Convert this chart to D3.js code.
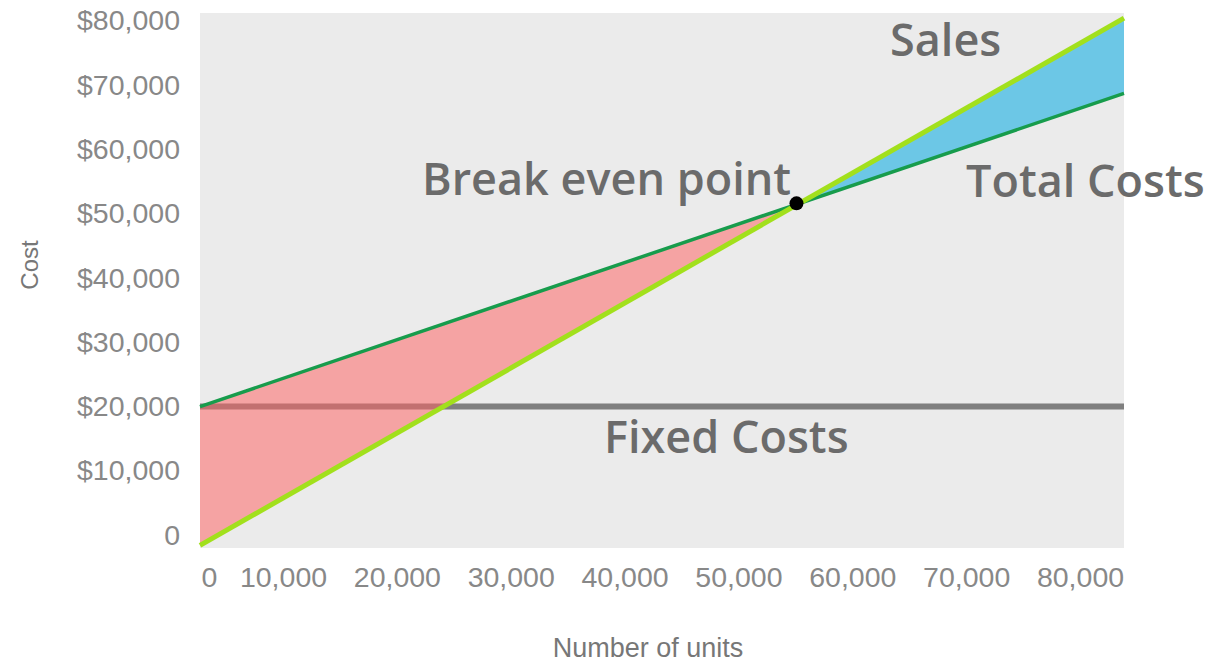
<!DOCTYPE html>
<html>
<head>
<meta charset="utf-8">
<script src="https://cdn.jsdelivr.net/npm/d3@7"></script>
<style>
  html, body { margin: 0; padding: 0; background: #fff; }
  svg { display: block; }
</style>
</head>
<body>
<svg id="chart" width="1222" height="663"></svg>
<script>
// Break-even chart data
const units = [0, 84000];                 // number of units at each end of the plot
const salesValues = [-1600, 80400];       // revenue line
const totalCostValues = [20000, 68700];   // fixed + variable costs
const fixedCostValues = [20000, 20000];   // fixed costs
const breakEven = { units: 55100, cost: 51600 };

const xTicks = [0, 10000, 20000, 30000, 40000, 50000, 60000, 70000, 80000];
const yTicks = [0, 10000, 20000, 30000, 40000, 50000, 60000, 70000, 80000];

const labels = [
  { text: "Sales", x: 890, y: 56 },
  { text: "Break even point", x: 422, y: 195 },
  { text: "Total Costs", x: 966, y: 197 },
  { text: "Fixed Costs", x: 604, y: 453 }
];

// Layout
const plot = { left: 200, right: 1124, top: 13, bottom: 548 };

const svg = d3.select("#chart");

const x = d3.scaleLinear()
  .domain([0, 10000, 80000, 84000])
  .range([plot.left, 283, 1080, plot.right]);

const y = d3.scaleLinear()
  .domain([-2000, 81200])
  .range([plot.bottom, plot.top]);

// Plot background
svg.append("rect")
  .attr("x", plot.left)
  .attr("y", plot.top)
  .attr("width", plot.right - plot.left)
  .attr("height", plot.bottom - plot.top)
  .attr("fill", "#ebebeb");

const line = d3.line().x(d => x(d[0])).y(d => y(d[1]));

// Fixed costs line
svg.append("path")
  .datum(d3.zip(units, fixedCostValues))
  .attr("d", line)
  .attr("fill", "none")
  .attr("stroke", "#7f7f7f")
  .attr("stroke-width", 6);

// Loss region: between total costs and sales, up to break-even
const lossArea = [
  { u: units[0], top: totalCostValues[0], bottom: salesValues[0] },
  { u: breakEven.units, top: breakEven.cost, bottom: breakEven.cost }
];
// Profit region: between sales and total costs, after break-even
const profitArea = [
  { u: breakEven.units, top: breakEven.cost, bottom: breakEven.cost },
  { u: units[1], top: salesValues[1], bottom: totalCostValues[1] }
];

const area = d3.area()
  .x(d => x(d.u))
  .y0(d => y(d.bottom))
  .y1(d => y(d.top));

svg.append("path")
  .datum(lossArea)
  .attr("d", area)
  .attr("fill", "#ff6262")
  .attr("fill-opacity", 0.52);

svg.append("path")
  .datum(profitArea)
  .attr("d", area)
  .attr("fill", "#6cc7e6");

// Total costs line
svg.append("path")
  .datum(d3.zip(units, totalCostValues))
  .attr("d", line)
  .attr("fill", "none")
  .attr("stroke", "#179c4c")
  .attr("stroke-width", 3.5);

// Sales line
svg.append("path")
  .datum(d3.zip(units, salesValues))
  .attr("d", line)
  .attr("fill", "none")
  .attr("stroke", "#a2e01c")
  .attr("stroke-width", 5);

// Break-even point
svg.append("circle")
  .attr("cx", x(breakEven.units))
  .attr("cy", y(breakEven.cost))
  .attr("r", 7)
  .attr("fill", "#000");

// Axes
const tickFont = "Liberation Sans, Arial, sans-serif";

const xAxis = svg.append("g")
  .attr("transform", `translate(0,${plot.bottom})`)
  .call(d3.axisBottom(x).tickValues(xTicks).tickSize(0).tickPadding(19)
    .tickFormat(d3.format(",")));
xAxis.select(".domain").remove();
xAxis.selectAll("text")
  .attr("font-family", tickFont)
  .attr("font-size", 28.5)
  .attr("fill", "#888");
xAxis.selectAll(".tick").filter(d => d === 0).select("text")
  .attr("text-anchor", "start").attr("x", 1);

const yAxis = svg.append("g")
  .attr("transform", `translate(${plot.left},0)`)
  .call(d3.axisLeft(y).tickValues(yTicks).tickSize(0).tickPadding(20)
    .tickFormat(d => d === 0 ? "0" : "$" + d3.format(",")(d)));
yAxis.select(".domain").remove();
yAxis.selectAll("text")
  .attr("font-family", tickFont)
  .attr("font-size", 28.5)
  .attr("fill", "#888");

// Axis titles
svg.append("text")
  .attr("transform", "translate(38,265) rotate(-90)")
  .attr("text-anchor", "middle")
  .attr("font-family", tickFont)
  .attr("font-size", 24)
  .attr("fill", "#777")
  .text("Cost");

svg.append("text")
  .attr("x", 648)
  .attr("y", 657)
  .attr("text-anchor", "middle")
  .attr("font-family", tickFont)
  .attr("font-size", 27)
  .attr("fill", "#777")
  .text("Number of units");

// Annotations
svg.append("g").selectAll("text")
  .data(labels)
  .join("text")
  .attr("x", d => d.x)
  .attr("y", d => d.y)
  .attr("font-family", "Open Sans, sans-serif")
  .attr("font-weight", 600)
  .attr("font-size", 45)
  .attr("fill", "#6b6b6b")
  .text(d => d.text);
</script>
</body>
</html>
